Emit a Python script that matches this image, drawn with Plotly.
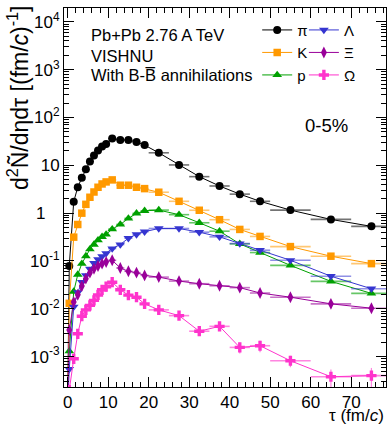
import plotly.graph_objects as go

# ---- data ----
tau = [0.0, 0.4, 1.5, 2.5, 3.5, 4.5, 5.5, 6.5, 7.5, 8.5, 9.5, 11, 13, 15, 17, 19,
       22.5, 27.5, 32.5, 37.5, 42.5, 47.5, 55, 65, 75]
tau_err = [0, 0.4, 0.5, 0.5, 0.5, 0.5, 0.5, 0.5, 0.5, 0.5, 0.5, 1, 1, 1, 1, 1,
           2.5, 2.5, 2.5, 2.5, 2.5, 2.5, 5, 5, 5]

pion = [1e-4, 0.079, 1.74, 3.5, 5.5, 8.3, 12, 16, 20.5, 24.8, 28, 36.5, 34, 33.8, 30.7, 26.5,
        18.3, 10.2, 5.8, 3.7, 2.5, 1.77, 1.16, 0.74, 0.53]
kaon = [1e-4, 0.013, 0.315, 0.58, 1.0, 1.53, 2.15, 2.77, 3.48, 4.08, 4.5, 4.96, 3.84, 3.84, 3.48, 3.26,
        2.74, 1.77, 1.15, 0.73, 0.457, 0.326, 0.2, 0.126, 0.088]
proton = [1e-4, 0.0013, 0.023, 0.052, 0.088, 0.127, 0.176, 0.221, 0.272, 0.32, 0.36, 0.463, 0.58, 0.777, 0.99, 1.12,
          1.16, 0.93, 0.63, 0.42, 0.228, 0.15, 0.081, 0.0375, 0.021]
lam = [1e-4, 0.00055, 0.011, 0.022, 0.036, 0.05, 0.068, 0.09, 0.108, 0.125, 0.145, 0.182, 0.221, 0.30, 0.36, 0.41,
       0.478, 0.478, 0.40, 0.32, 0.232, 0.168, 0.1035, 0.048, 0.0263]
xi = [1e-4, 0.0036, 0.0138, 0.0197, 0.03, 0.0427, 0.057, 0.069, 0.0785, 0.088, 0.0955, 0.1035, 0.0714, 0.0608, 0.057, 0.05,
      0.046, 0.038, 0.0335, 0.0303, 0.0277, 0.0214, 0.0175, 0.0127, 0.0103]
omega = [1e-5, 0.0002, 0.0009, 0.003, 0.007, 0.0095, 0.0118, 0.015, 0.0195, 0.025, 0.029, 0.036, 0.025, 0.0193, 0.0175, 0.0127,
         0.0095, 0.0072, 0.0034, 0.0043, 0.00156, 0.00169, 0.00082, 0.00038, 0.0004]
omega_err = [0, 0, 0, 0, 0, 0, 0, 0, 0, 0, 0, 0, 0.001, 0.001, 0.0009, 0.0008,
             0.0006, 0.0007, 0.0006, 0.0008, 0.0004, 0.00045, 0.00022, 0.00016, 0.00018]

labels = ["π", "K", "p", "Λ", "Ξ", "Ω"]
colors = ["#000000", "#ff9900", "#00a000", "#3535d0", "#990099", "#ff33cc"]
err_colors = ["rgba(0,0,0,0.55)", "rgba(255,153,0,0.55)", "rgba(0,160,0,0.6)",
              "rgba(53,53,208,0.55)", "rgba(153,0,153,0.55)", "rgba(255,51,204,0.6)"]
symbols = ["circle", "square", "triangle-up", "triangle-down", "diamond-tall", "cross"]
sizes = [8, 7.5, 8.5, 8.5, 8.5, 8.5]
series = [pion, kaon, proton, lam, xi, omega]
legends = ["legend", "legend", "legend", "legend2", "legend2", "legend2"]

y_tickvals = [1e-3, 1e-2, 1e-1, 1, 10, 1e2, 1e3, 1e4]
y_ticktext = ["10<sup>-3</sup>", "10<sup>-2</sup>", "10<sup>-1</sup>", "1\u00a0\u00a0\u00a0", "10",
              "10<sup>2</sup>", "10<sup>3</sup>", "10<sup>4</sup>"]
y_minor = [k * 10.0 ** d for d in range(-4, 4) for k in range(2, 10)]

FONT = "Liberation Sans, Arial, sans-serif"

fig = go.Figure()
for i, (name, vals) in enumerate(zip(labels, series)):
    ey = dict(type="data", array=omega_err, color=err_colors[i], thickness=1.2, width=0) if name == "Ω" else None
    fig.add_trace(go.Scatter(
        x=tau, y=vals, mode="lines+markers", name=name,
        line=dict(color=colors[i], width=1),
        marker=dict(symbol=symbols[i], size=sizes[i], color=colors[i], line=dict(width=0)),
        error_x=dict(type="data", array=tau_err, color=err_colors[i], thickness=1.6, width=0),
        error_y=ey,
        legend=legends[i],
    ))

axis_common = dict(showline=True, linecolor="black", linewidth=1, mirror="allticks",
                   ticks="inside", tickcolor="black", ticklen=10, tickwidth=1,
                   showgrid=False, zeroline=False,
                   tickfont=dict(family=FONT, size=17, color="black"))

fig.update_layout(
    width=388, height=426,
    margin=dict(l=64, r=2, t=8, b=39),
    paper_bgcolor="white", plot_bgcolor="white",
    font=dict(family=FONT, color="black"),
    xaxis=dict(range=[-0.9, 78.6], tickmode="linear", tick0=0, dtick=10,
               minor=dict(tick0=0, dtick=2, ticks="inside", ticklen=5, tickcolor="black", showgrid=False),
               **axis_common),
    yaxis=dict(type="log", range=[-3.635, 4.29], tickmode="array",
               tickvals=y_tickvals, ticktext=y_ticktext,
               minor=dict(tickmode="array", tickvals=y_minor, ticks="inside", ticklen=5,
                          tickcolor="black", showgrid=False),
               **axis_common),
    legend=dict(x=0.6, y=0.985, xanchor="left", yanchor="top", bgcolor="rgba(0,0,0,0)",
                font=dict(family=FONT, size=15), tracegroupgap=0, itemwidth=30),
    legend2=dict(x=0.745, y=0.985, xanchor="left", yanchor="top", bgcolor="rgba(0,0,0,0)",
                 font=dict(family=FONT, size=15), tracegroupgap=0, itemwidth=30),
    annotations=[
        dict(text="Pb+Pb 2.76 A TeV", xref="paper", yref="paper",
             x=(89 - 64) / 322, y=1 - (35.5 - 8) / 379, xanchor="left", yanchor="middle",
             showarrow=False, font=dict(family=FONT, size=16.5)),
        dict(text="VISHNU", xref="paper", yref="paper",
             x=(89 - 64) / 322, y=1 - (55.5 - 8) / 379, xanchor="left", yanchor="middle",
             showarrow=False, font=dict(family=FONT, size=16.5)),
        dict(text="With B-B\u0305 annihilations", xref="paper", yref="paper",
             x=(89 - 64) / 322, y=1 - (75 - 8) / 379, xanchor="left", yanchor="middle",
             showarrow=False, font=dict(family=FONT, size=16.5)),
        dict(text="0-5%", xref="paper", yref="paper",
             x=(303 - 64) / 322, y=1 - (125 - 8) / 379, xanchor="left", yanchor="middle",
             showarrow=False, font=dict(family=FONT, size=18.5)),
        dict(text="τ (fm/<i>c</i>)", xref="paper", yref="paper",
             x=1, y=-(415 - 387) / 379, xanchor="right", yanchor="middle",
             showarrow=False, font=dict(family=FONT, size=17)),
        dict(text="d<sup>2</sup>Ñ/dηdτ [(fm/<i>c</i>)<sup>-1</sup>]", xref="paper", yref="paper",
             x=(18 - 64) / 322, y=1 + (8 - 4) / 379, xanchor="center", yanchor="top",
             textangle=-90, showarrow=False, font=dict(family=FONT, size=23)),
    ],
)

fig.write_html("out.html")
